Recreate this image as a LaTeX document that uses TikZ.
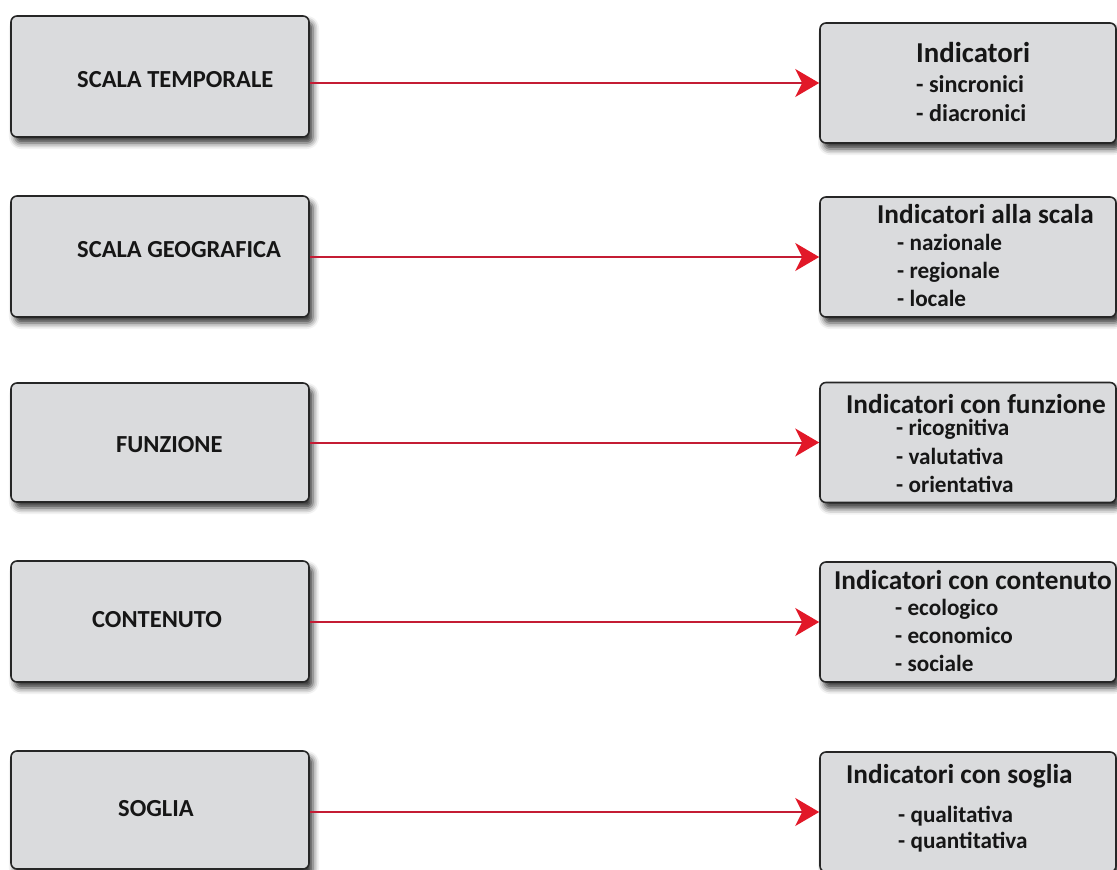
\documentclass[tikz,border=0pt]{standalone}
\usepackage{fontspec}
\setmainfont{Carlito}
\usetikzlibrary{arrows.meta,shadows.blur}
\definecolor{boxfill}{RGB}{218,219,221}
\definecolor{boxline}{RGB}{38,38,38}
\definecolor{textdark}{RGB}{22,22,22}
\definecolor{linkred}{RGB}{196,28,52}
\definecolor{tipred}{RGB}{226,24,40}
\begin{document}
\begin{tikzpicture}[x=1pt,y=-1pt,
  card/.style={draw=boxline, line width=1.6pt, fill=boxfill, rounded corners=6pt,
    inner sep=0pt, minimum width=296pt, minimum height=120pt,
    blur shadow={shadow xshift=4pt, shadow yshift=-6pt, shadow blur radius=6pt, shadow opacity=80}},
  lefttext/.style={anchor=base west, inner sep=0pt, text=textdark,
    font=\fontsize{24.5}{28}\selectfont\bfseries},
  headtext/.style={anchor=base west, inner sep=0pt, text=textdark,
    font=\fontsize{27.3}{31}\selectfont\bfseries},
  itemtext/.style={anchor=base west, inner sep=0pt, text=textdark,
    font=\fontsize{23.2}{27}\selectfont\bfseries},
  link/.style={draw=linkred, line width=2pt,
    -{Stealth[length=24pt,width=28pt,inset=7pt,color=tipred]}},
]
\useasboundingbox (0,0) rectangle (1117,870);

% left column: classification criteria
\node[card, minimum width=298pt, minimum height=121pt] (L1) at (160,76.5) {};
\node[card, minimum width=298pt, minimum height=121pt] (L2) at (160,256.5) {};
\node[card, minimum width=298pt, minimum height=119pt] (L3) at (160,442.5) {};
\node[card, minimum width=298pt, minimum height=121pt] (L4) at (160,621.5) {};
\node[card, minimum width=298pt, minimum height=118pt] (L5) at (160,810) {};

\node[lefttext] (t1) at (77,87) {SCALA TEMPORALE};
\node[lefttext] (t2) at (77,257) {SCALA GEOGRAFICA};
\node[lefttext] (t3) at (116,452) {FUNZIONE};
\node[lefttext] (t4) at (92,627) {CONTENUTO};
\node[lefttext] (t5) at (118,816) {SOGLIA};

% right column: resulting kinds of indicators
\node[card] (R1) at (968,83) {};
\node[card] (R2) at (968,257) {};
\node[card] (R3) at (968,442.5) {};
\node[card] (R4) at (968,622) {};
\node[card] (R5) at (968,812) {};

\node[headtext, font=\fontsize{28.8}{32}\selectfont\bfseries] (h1) at (916,62) {Indicatori};
\node[itemtext, font=\fontsize{24.2}{28}\selectfont\bfseries] (h1a) at (916,92) {- sincronici};
\node[itemtext, font=\fontsize{24.2}{28}\selectfont\bfseries] (h1b) at (916,121) {- diacronici};

\node[headtext] (h2) at (877,223) {Indicatori alla scala};
\node[itemtext] (h2a) at (897,250) {- nazionale};
\node[itemtext] (h2b) at (897,278) {- regionale};
\node[itemtext] (h2c) at (897,306) {- locale};

\node[headtext] (h3) at (846,413) {Indicatori con funzione};
\node[itemtext] (h3a) at (896,435) {- ricognitiva};
\node[itemtext] (h3b) at (896,464) {- valutativa};
\node[itemtext] (h3c) at (896,492) {- orientativa};

\node[headtext] (h4) at (834,589) {Indicatori con contenuto};
\node[itemtext] (h4a) at (895,615) {- ecologico};
\node[itemtext] (h4b) at (895,643) {- economico};
\node[itemtext] (h4c) at (895,671) {- sociale};

\node[headtext] (h5) at (846,783) {Indicatori con soglia};
\node[itemtext] (h5a) at (898,822) {- qualitativa};
\node[itemtext] (h5b) at (898,848) {- quantitativa};

% connectors
\draw[link] (L1.east |- R1.west) -- (R1.west);
\draw[link] (L2.east |- R2.west) -- (R2.west);
\draw[link] (L3.east |- R3.west) -- (R3.west);
\draw[link] (L4.east |- R4.west) -- (R4.west);
\draw[link] (L5.east |- R5.west) -- (R5.west);
\end{tikzpicture}
\end{document}
